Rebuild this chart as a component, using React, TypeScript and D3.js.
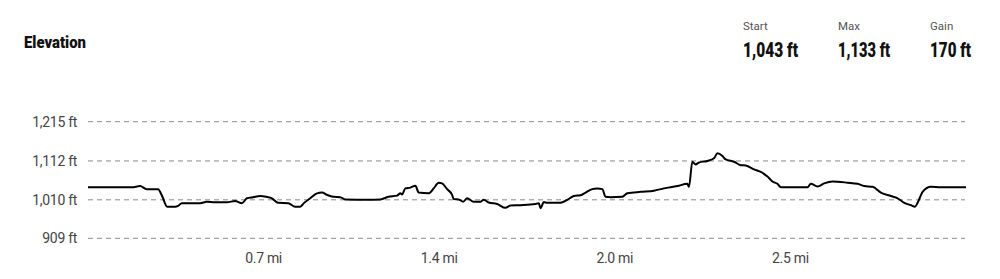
import React from "react";
import * as d3 from "d3";

// progress along the route (% of total distance)
const progress = [0, 4.98, 5.93, 6.69, 7.98, 8.44, 9.01, 9.92, 10.26, 10.68, 12.77, 13.53, 14.48, 15.82, 16.76, 17.53, 18.1, 18.81, 19.61, 20.3, 20.95, 21.66, 22.81, 23.6, 24.17, 24.63, 25.31, 26.08, 26.65, 27.22, 27.94, 28.73, 29.3, 31.78, 33.3, 34.21, 35.2, 35.58, 35.77, 36.15, 36.72, 37.29, 37.66, 38.8, 39.37, 39.94, 40.33, 40.9, 41.47, 41.65, 42.22, 42.73, 43.18, 43.93, 44.7, 45.07, 45.64, 46.6, 47.55, 48.12, 49.26, 50.97, 51.35, 51.54, 51.92, 52.3, 53.82, 54.58, 55.34, 56.1, 56.67, 57.43, 58.01, 58.58, 58.95, 59.52, 60.85, 61.43, 62.94, 64.46, 65.6, 67.13, 68.26, 68.45, 68.83, 69.21, 69.59, 70.55, 71.3, 71.69, 72.26, 72.63, 73.58, 74.34, 74.91, 75.86, 76.82, 77.39, 77.96, 78.53, 78.91, 81.95, 82.33, 83.09, 83.84, 84.8, 86.51, 87.65, 88.4, 89.36, 90.31, 91.45, 92.21, 92.97, 93.73, 94.18, 94.49, 95.06, 96.01, 97.15, 100];

// elevation in feet
const elevation = [1043, 1043, 1046, 1038, 1038, 1020, 992, 992, 994, 1001, 1001, 1005, 1003.5, 1003.5, 1007, 1001, 1014, 1017, 1020, 1018, 1014, 1002, 1001, 992, 992, 1002, 1014, 1027, 1029, 1023, 1018, 1017, 1011, 1010, 1011, 1018, 1021, 1027, 1024, 1040, 1042, 1047, 1029, 1027, 1040, 1055, 1053, 1038, 1023, 1012, 1011, 1005, 1014, 1005, 1005, 1010, 1003, 999, 989, 995, 996, 999, 1001, 988, 1004, 1002, 1002, 1010, 1020, 1022, 1029, 1038, 1040, 1038, 1018, 1017, 1018, 1027, 1031, 1034, 1040, 1046, 1052, 1044, 1110, 1103, 1108, 1112, 1119, 1132, 1125, 1116, 1110, 1101, 1100, 1090, 1081, 1071, 1058, 1052, 1043, 1043, 1052, 1045, 1053, 1058, 1055, 1052, 1046, 1044, 1029, 1020, 1014, 1002, 996, 992, 1002, 1031, 1044, 1043, 1043];

const yTicks = [909, 1010, 1112, 1215];
const yTickLabels = ["909 ft", "1,010 ft", "1,112 ft", "1,215 ft"];
const xTickPositions = [20, 40, 60, 80];
const xTickLabels = ["0.7 mi", "1.4 mi", "2.0 mi", "2.5 mi"];

const statLabels = ["Start", "Max", "Gain"];
const statValues = ["1,043 ft", "1,133 ft", "170 ft"];
const statX = [743, 838, 930];
const statWidths = [55, 52, 41];

const bold = "Roboto, 'DejaVu Sans', sans-serif";
const regular = "Roboto, 'Noto Sans', sans-serif";

export default function App() {
  const W = 1000;
  const H = 279;
  const x = d3.scaleLinear().domain([0, 100]).range([88, 966]);
  const y = d3.scaleLinear().domain([909, 1215]).range([238.3, 121.7]);
  const data = progress.map((p, i) => ({ p, e: elevation[i] }));
  const line = d3
    .line<{ p: number; e: number }>()
    .x((d) => x(d.p))
    .y((d) => y(d.e))
    .curve(d3.curveMonotoneX);

  return (
    <div style={{ position: "absolute", left: 0, top: 0 }}>
      <svg width={W} height={H} style={{ display: "block", background: "#fff" }}>
        <text
          x={24}
          y={48}
          fontFamily={bold}
          fontWeight={900}
          fontSize={17}
          fill="#111"
          textLength={62}
          lengthAdjust="spacingAndGlyphs"
        >
          Elevation
        </text>
        {statLabels.map((l, i) => (
          <g key={l}>
            <text x={statX[i]} y={30} fontFamily={regular} fontSize={11.5} fill="#555">
              {l}
            </text>
            <text
              x={statX[i]}
              y={57}
              fontFamily={bold}
              fontWeight={900}
              fontSize={20}
              fill="#111"
              textLength={statWidths[i]}
              lengthAdjust="spacingAndGlyphs"
            >
              {statValues[i]}
            </text>
          </g>
        ))}
        {yTicks.map((t, i) => (
          <g key={t}>
            <line
              x1={88}
              x2={965}
              y1={y(t)}
              y2={y(t)}
              stroke="#8a8a8a"
              strokeWidth={1}
              strokeDasharray="5,4"
            />
            <text
              x={77}
              y={y(t)}
              dy="0.35em"
              textAnchor="end"
              fontFamily={regular}
              fontSize={14}
              letterSpacing={-0.3}
              fill="#444"
            >
              {yTickLabels[i]}
            </text>
          </g>
        ))}
        {xTickPositions.map((t, i) => (
          <text
            key={t}
            x={x(t)}
            y={263}
            textAnchor="middle"
            fontFamily={regular}
            fontSize={14}
            letterSpacing={-0.3}
            fill="#444"
          >
            {xTickLabels[i]}
          </text>
        ))}
        <path d={line(data) || ""} fill="none" stroke="#000" strokeWidth={2} strokeLinejoin="round" />
      </svg>
    </div>
  );
}
